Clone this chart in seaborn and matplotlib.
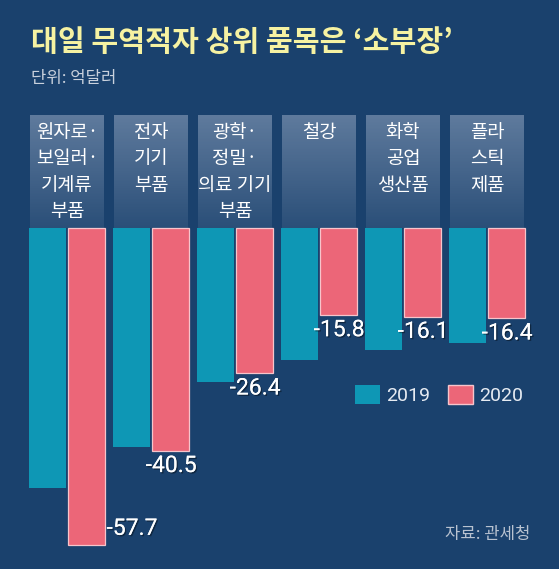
import numpy as np
import pandas as pd
import matplotlib
matplotlib.use("Agg")
import matplotlib.pyplot as plt
import matplotlib.patheffects as pe
import seaborn as sns

categories = ["원자로·\n보일러·\n기계류\n부품", "전자\n기기\n부품", "광학·\n정밀·\n의료 기기\n부품", "철강", "화학\n공업\n생산품", "플라\n스틱\n제품"]
v2019 = [-47.3, -39.8, -28.0, -24.0, -22.2, -20.9]
v2020 = [-57.7, -40.5, -26.4, -15.8, -16.1, -16.4]
years = ["2019", "2020"]

df = pd.DataFrame({
    "cat": list(range(6)) * 2,
    "year": [years[0]] * 6 + [years[1]] * 6,
    "val": v2019 + v2020,
})

sns.set_theme(style="white")
plt.rcParams['font.family'] = ['Noto Sans CJK KR', 'DejaVu Sans']
bg = "#1a416d"
teal = "#0e97b5"
pink = "#ec6678"

fig = plt.figure(figsize=(5.59, 5.69), dpi=100, facecolor=bg)
ax = fig.add_axes([0, 0, 1, 1])
ax.set_facecolor(bg)
px = 5.5
ux = 84.0
XL = (-67 / ux, (559 - 67) / ux)
YL = (-(569 - 228) / px, 228 / px)

top = (228 - 115) / px
grad = np.zeros((50, 1, 4))
grad[..., :3] = np.array([0.78, 0.82, 0.90])
grad[:, 0, 3] = np.linspace(0.40, 0.10, 50)
for i, c in enumerate(categories):
    ax.imshow(grad, extent=(i - 0.44, i + 0.44, 0, top), aspect="auto", zorder=1,
              interpolation="bilinear")
    ax.text(i, top - 1.2, c, ha="center", va="top", color="white", fontsize=13.5,
            linespacing=1.35, zorder=3)

sns.barplot(data=df, x="cat", y="val", hue="year", palette=[teal, pink], saturation=1,
            width=0.92, gap=0.05, ax=ax, legend=False, zorder=2, native_scale=True,
            edgecolor="none")
for p in ax.patches[6:12]:
    p.set_edgecolor("#f7c4cb")
    p.set_linewidth(0.9)
ax.set_xlim(*XL)
ax.set_ylim(*YL)

shadow = [pe.withSimplePatchShadow(offset=(1, -1), shadow_rgbFace="black", alpha=0.4), pe.Normal()]
for i, v in enumerate(v2020):
    if i == 0:
        ax.text(i + 0.47, v + 1.0, f"{v}", ha="left", va="bottom", color="white",
                fontsize=16.5, fontfamily="Roboto", fontweight="normal", zorder=4, path_effects=shadow)
    else:
        ax.text(i + 0.24, v - 0.6, f"{v}", ha="center", va="top", color="white",
                fontsize=16.5, fontfamily="Roboto", fontweight="normal", zorder=4, path_effects=shadow)

ax.axis("off")

fig.text(31 / 559, 1 - 42 / 569, "대일 무역적자 상위 품목은 ‘소부장’", color="#f6f2a2",
         fontsize=21, fontweight="bold", va="center", ha="left")
fig.text(31 / 559, 1 - 78 / 569, "단위: 억달러", color="#c9d1dd", fontsize=12, va="center", ha="left")

for x0, col, lab in [(355, teal, "2019"), (448, pink, "2020")]:
    fig.patches.append(plt.Rectangle((x0 / 559, 1 - 404 / 569), 25 / 559, 19 / 569,
                                     transform=fig.transFigure, facecolor=col,
                                     edgecolor="#f7c4cb" if col == pink else "none", figure=fig))
    fig.text((x0 + 31) / 559, 1 - 396 / 569, lab, color="#e6ebf2", fontsize=14,
             fontfamily="Roboto", fontweight="normal", va="center", ha="left")

fig.text(530 / 559, 1 - 534 / 569, "자료: 관세청", color="#b8c2d0", fontsize=12, va="center", ha="right")

fig.savefig("out.png", dpi=100, facecolor=bg)
